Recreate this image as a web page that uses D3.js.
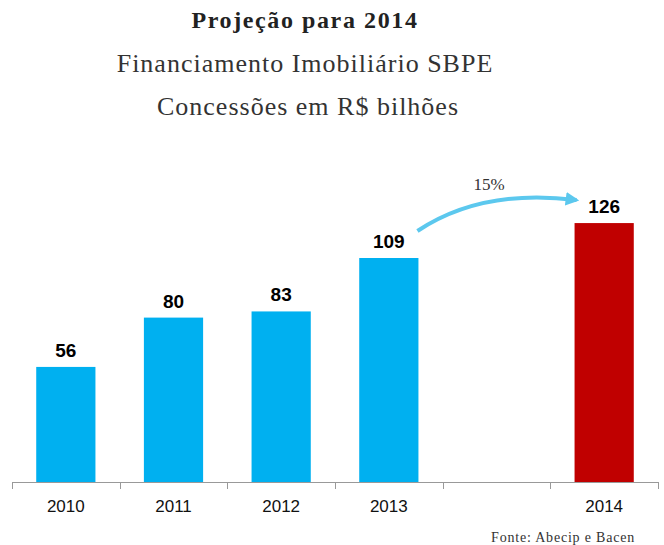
<!DOCTYPE html>
<html><head><meta charset="utf-8">
<script src="https://cdn.jsdelivr.net/npm/d3@7"></script>
<style>body{margin:0;background:#fff}svg{display:block}</style>
</head><body>
<script>
const categories = ["2010","2011","2012","2013","","2014"];
const values = [56, 80, 83, 109, null, 126];
const barColors = ["#00B0F0","#00B0F0","#00B0F0","#00B0F0",null,"#C00000"];
const growthLabel = "15%";
const titles = ["Projeção para 2014","Financiamento Imobiliário SBPE","Concessões em R$ bilhões"];
const source = "Fonte: Abecip e Bacen";

const W = 664, H = 545;
const svg = d3.select("body").append("svg").attr("width", W).attr("height", H);
const serif = "'Liberation Serif', 'DejaVu Serif', serif";
const sans = "'Liberation Sans', Arial, sans-serif";

svg.append("text").attr("x", 305).attr("y", 28).attr("text-anchor","middle")
  .attr("font-family", serif).attr("font-weight","bold").attr("font-size", 24)
  .attr("letter-spacing", 1.6).attr("fill","#222").text(titles[0]);
svg.append("text").attr("x", 305).attr("y", 72).attr("text-anchor","middle")
  .attr("font-family", serif).attr("font-size", 26).attr("letter-spacing", 1)
  .attr("fill","#333").text(titles[1]);
svg.append("text").attr("x", 308).attr("y", 115).attr("text-anchor","middle")
  .attr("font-family", serif).attr("font-size", 26).attr("letter-spacing", 1)
  .attr("fill","#333").text(titles[2]);

const x = d3.scaleBand().domain(categories.map((c,i)=>i)).range([12, 658]).paddingInner(0.45).paddingOuter(0.225);
const y = d3.scaleLinear().domain([0, 140]).range([482, 482 - 140*2.055]);

const data = categories.map((c,i)=>({i, c, v: values[i], col: barColors[i]})).filter(d=>d.v!=null);

svg.selectAll("rect.bar").data(data).join("rect").attr("class","bar")
  .attr("x", d=>x(d.i)).attr("width", x.bandwidth())
  .attr("y", d=>y(d.v)).attr("height", d=>y(0)-y(d.v))
  .attr("fill", d=>d.col);

svg.selectAll("text.val").data(data).join("text").attr("class","val")
  .attr("x", d=>x(d.i)+x.bandwidth()/2).attr("y", d=>y(d.v)-10)
  .attr("text-anchor","middle").attr("font-family", sans).attr("font-weight","bold")
  .attr("font-size", 19).attr("fill","#000").text(d=>d.v);

// axis
const axisG = svg.append("g");
axisG.append("line").attr("x1", 12).attr("x2", 658).attr("y1", 482.5).attr("y2", 482.5).attr("stroke","#999");
const tickPos = d3.range(categories.length+1).map(k=>12 + k*(646/categories.length));
axisG.selectAll("line.tick").data(tickPos).join("line").attr("class","tick")
  .attr("x1", d=>Math.round(d)+0.5).attr("x2", d=>Math.round(d)+0.5).attr("y1", 482).attr("y2", 489).attr("stroke","#999");
axisG.selectAll("text.cat").data(categories.map((c,i)=>({c,i}))).join("text").attr("class","cat")
  .attr("x", d=>x(d.i)+x.bandwidth()/2).attr("y", 512).attr("text-anchor","middle")
  .attr("font-family", sans).attr("font-size", 17).attr("fill","#111").text(d=>d.c);

// growth arrow
const i3 = 3, i5 = 5;
const sx = x(i3)+x.bandwidth()-1, sy = y(values[i3]) - 27;
const ex = x(i5) + 2, ey = y(values[i5]) - 23;
svg.append("defs").append("marker").attr("id","ah").attr("viewBox","0 0 10 10")
  .attr("refX", 8).attr("refY", 5).attr("markerWidth", 3.4).attr("markerHeight", 3.6)
  .attr("orient","auto").append("path").attr("d","M0,0 L10,5 L0,10 z").attr("fill","#5CC8EE");
svg.append("path").attr("d", `M${sx},${sy} Q${(sx+ex)/2-15},${ey-12} ${ex},${ey}`)
  .attr("fill","none").attr("stroke","#5CC8EE").attr("stroke-width", 4).attr("marker-end","url(#ah)");
svg.append("text").attr("x", 489).attr("y", 190).attr("text-anchor","middle")
  .attr("font-family", serif).attr("font-size", 17).attr("fill","#333").text(growthLabel);

svg.append("text").attr("x", 635).attr("y", 542).attr("text-anchor","end")
  .attr("font-family", serif).attr("font-size", 14).attr("letter-spacing", 0.8)
  .attr("fill","#333").text(source);
</script>
</body></html>
